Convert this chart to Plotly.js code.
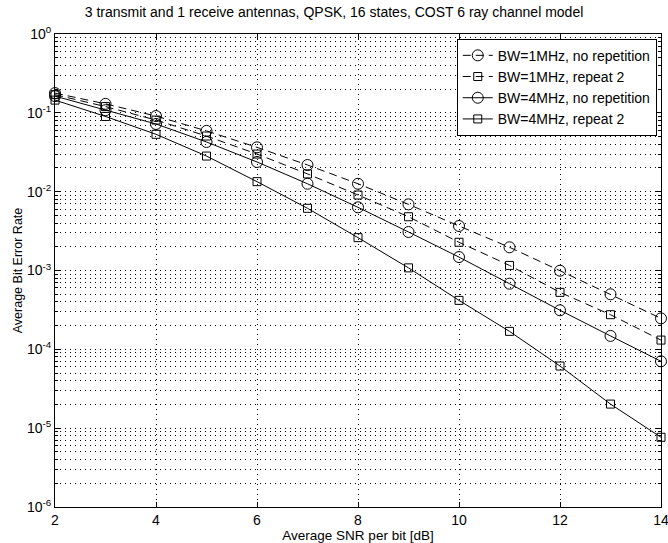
<!DOCTYPE html>
<html>
<head>
<meta charset="utf-8">
<script src="https://cdn.plot.ly/plotly-3.0.1.min.js"></script>
<style>html,body{margin:0;padding:0;background:#fff;}#chart{width:668px;height:543px;}</style>
</head>
<body>
<div id="chart"></div>
<script>
const snr = [2, 3, 4, 5, 6, 7, 8, 9, 10, 11, 12, 13, 14];
const ber1MhzNoRep = [0.178, 0.13, 0.091, 0.059, 0.0365, 0.0218, 0.0126, 0.0069, 0.00367, 0.00197, 0.000994, 0.000499, 0.000247];
const ber1MhzRep2  = [0.17, 0.12, 0.081, 0.0508, 0.030, 0.0168, 0.00907, 0.00481, 0.00228, 0.00116, 0.000528, 0.000275, 0.000131];
const ber4MhzNoRep = [0.163, 0.108, 0.0722, 0.0427, 0.0238, 0.0126, 0.00633, 0.00308, 0.00148, 0.00068, 0.000313, 0.000148, 0.0000705];
const ber4MhzRep2  = [0.145, 0.09, 0.0534, 0.0283, 0.0134, 0.00615, 0.00261, 0.00108, 0.000418, 0.000169, 0.0000614, 0.0000202, 0.00000766];
const seriesNames = ['BW=1MHz, no repetition', 'BW=1MHz, repeat 2', 'BW=4MHz, no repetition', 'BW=4MHz, repeat 2'];
const xTickVals = [2, 4, 6, 8, 10, 12, 14];
const yTickVals = [1e-6, 1e-5, 1e-4, 1e-3, 1e-2, 1e-1, 1];
const yTickText = ['10<sup>-6</sup>', '10<sup>-5</sup>', '10<sup>-4</sup>', '10<sup>-3</sup>', '10<sup>-2</sup>', '10<sup>-1</sup>', '10<sup>0</sup>'];
const yMinorVals = [];
for (let e = -6; e < 0; e++) { for (let m = 2; m <= 9; m++) { yMinorVals.push(m * Math.pow(10, e)); } }

const font = 'Liberation Sans, Arial, Helvetica, sans-serif';
const dotted = '1px,4px';
function trace(y, name, dash, symbol, size) {
  return {
    x: snr, y: y, name: name, type: 'scatter', mode: 'lines+markers', cliponaxis: false,
    line: {color: '#000', width: 1, dash: dash},
    marker: {symbol: symbol, size: size, color: '#000', line: {color: '#000', width: 1}}
  };
}
const data = [
  trace(ber1MhzNoRep, seriesNames[0], '8px,5px', 'circle-open', 11),
  trace(ber1MhzRep2, seriesNames[1], '8px,5px', 'square-open', 8),
  trace(ber4MhzNoRep, seriesNames[2], 'solid', 'circle-open', 11),
  trace(ber4MhzRep2, seriesNames[3], 'solid', 'square-open', 8)
];
const layout = {
  width: 668, height: 543,
  margin: {l: 55, r: 7, t: 34, b: 36},
  paper_bgcolor: '#fff', plot_bgcolor: '#fff',
  font: {family: font, size: 13, color: '#000'},
  title: {text: '3 transmit and 1 receive antennas, QPSK, 16 states, COST 6 ray channel model',
          font: {family: font, size: 14, color: '#000'}, x: 0.5, xanchor: 'center', y: 0.978, yanchor: 'middle'},
  showlegend: true,
  legend: {x: 0.993, y: 0.99, xanchor: 'right', yanchor: 'top', bgcolor: '#fff', bordercolor: '#000', borderwidth: 1,
           font: {family: font, size: 14, color: '#000'}, tracegroupgap: 0, itemwidth: 30},
  xaxis: {
    range: [2, 14], tickvals: xTickVals, ticktext: xTickVals.map(String), ticklabeloverflow: 'allow',
    showline: true, linecolor: '#000', linewidth: 1, mirror: 'ticks', ticks: 'inside', ticklen: 5, tickcolor: '#000',
    showgrid: true, gridcolor: '#000', gridwidth: 1, griddash: dotted, zeroline: false,
    tickfont: {family: font, size: 14, color: '#000'},
    title: {text: 'Average SNR per bit [dB]', font: {family: font, size: 13.5, color: '#000'}, standoff: 2}
  },
  yaxis: {
    type: 'log', range: [-6, 0], tickvals: yTickVals, ticktext: yTickText, ticklabeloverflow: 'allow',
    showline: true, linecolor: '#000', linewidth: 1, mirror: 'ticks', ticks: 'inside', ticklen: 5, tickcolor: '#000',
    showgrid: true, gridcolor: '#000', gridwidth: 1, griddash: dotted, zeroline: false,
    tickfont: {family: font, size: 14, color: '#000'},
    minor: {tickvals: yMinorVals, ticks: 'inside', ticklen: 3, tickcolor: '#000', showgrid: true, gridcolor: '#000', gridwidth: 1, griddash: dotted},
    title: {text: 'Average Bit Error Rate', font: {family: font, size: 12.5, color: '#000'}, standoff: 1}
  }
};
Plotly.newPlot('chart', data, layout, {displayModeBar: false, staticPlot: true});
</script>
</body>
</html>
